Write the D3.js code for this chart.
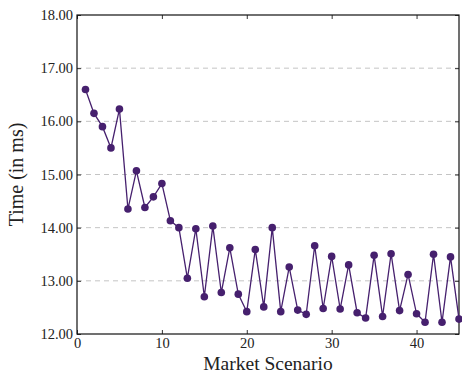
<!DOCTYPE html>
<html>
<head>
<meta charset="utf-8">
<script src="https://cdn.jsdelivr.net/npm/d3@7"></script>
<style>
  body { margin: 0; background: #fff; }
  text { font-family: "Liberation Serif", "DejaVu Serif", serif; fill: #222; }
</style>
</head>
<body>
<div id="chart"></div>
<script>
  // scenario index and measured time
  const scenarios = d3.range(1, 46)
  const times = [16.6, 16.15, 15.9, 15.5, 16.23, 14.35, 15.07, 14.38, 14.58, 14.83,
    14.13, 14.0, 13.05, 13.98, 12.7, 14.03, 12.78, 13.62, 12.75, 12.42,
    13.59, 12.51, 14.0, 12.42, 13.26, 12.45, 12.37, 13.66, 12.48, 13.46,
    12.47, 13.3, 12.4, 12.3, 13.48, 12.33, 13.51, 12.44, 13.12, 12.38,
    12.22, 13.5, 12.22, 13.45, 12.28]
  const xTicks = [0, 10, 20, 30, 40]
  const yTicks = [12, 13, 14, 15, 16, 17, 18]

  const width = 462, height = 375
  const mLeft = 77, mRight = 459, mTop = 15, mBottom = 334
  const color = '#46206e'

  const x = d3.scaleLinear().domain([0, 45]).range([mLeft, mRight])
  const y = d3.scaleLinear().domain([12, 18]).range([mBottom, mTop])

  const svg = d3.select('#chart').append('svg')
    .attr('width', width).attr('height', height)

  // grid
  svg.append('g').selectAll('line')
    .data(yTicks.slice(1, -1))
    .enter().append('line')
    .attr('x1', mLeft).attr('x2', mRight)
    .attr('y1', d => y(d)).attr('y2', d => y(d))
    .attr('stroke', '#c4c4c4').attr('stroke-dasharray', '5,4')

  // axes
  const yAxis = d3.axisLeft(y).tickValues(yTicks).tickFormat(d3.format('.2f')).tickSizeInner(-4).tickSizeOuter(0).tickPadding(4)
  const yAxisR = d3.axisRight(y).tickValues(yTicks).tickFormat('').tickSizeInner(-4).tickSizeOuter(0)
  const xAxis = d3.axisBottom(x).tickValues(xTicks).tickSizeInner(-4).tickSizeOuter(0).tickPadding(2)
  const xAxisT = d3.axisTop(x).tickValues(xTicks).tickFormat('').tickSizeInner(-4).tickSizeOuter(0)

  svg.append('g').attr('transform', `translate(${mLeft},0)`).call(yAxis)
  svg.append('g').attr('transform', `translate(${mRight},0)`).call(yAxisR)
  svg.append('g').attr('transform', `translate(0,${mBottom})`).call(xAxis)
    .selectAll('text').attr('dy', '0.8em')
  svg.append('g').attr('transform', `translate(0,${mTop})`).call(xAxisT)

  svg.selectAll('.domain').remove()
  svg.selectAll('.tick text').style('font-family', '"Liberation Serif", serif').style('font-size', '14.5px').attr('fill', '#222')
  svg.selectAll('.tick line').attr('stroke', '#333')

  // frame
  svg.append('rect')
    .attr('x', mLeft).attr('y', mTop)
    .attr('width', mRight - mLeft).attr('height', mBottom - mTop)
    .attr('fill', 'none').attr('stroke', '#111').attr('stroke-width', 1.2)

  // series
  const line = d3.line().x((d, i) => x(scenarios[i])).y(d => y(d))
  svg.append('path').datum(times)
    .attr('d', line)
    .attr('fill', 'none').attr('stroke', color).attr('stroke-width', 1.3)

  svg.append('g').selectAll('circle')
    .data(times)
    .enter().append('circle')
    .attr('cx', (d, i) => x(scenarios[i]))
    .attr('cy', d => y(d))
    .attr('r', 3.8)
    .attr('fill', color)

  // labels
  svg.append('text')
    .attr('x', (mLeft + mRight) / 2).attr('y', 370)
    .attr('text-anchor', 'middle')
    .style('font-size', '19.5px')
    .text('Market Scenario')

  svg.append('text')
    .attr('transform', `translate(23,${(mTop + mBottom) / 2}) rotate(-90)`)
    .attr('text-anchor', 'middle')
    .style('font-size', '20px')
    .text('Time (in ms)')
</script>
</body>
</html>
